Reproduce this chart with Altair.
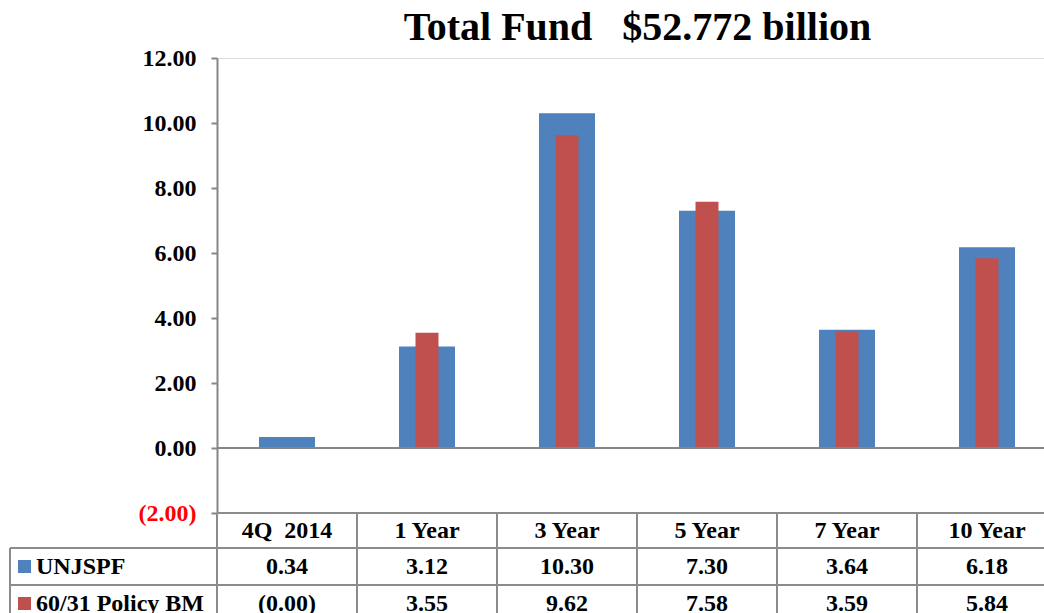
import altair as alt
import pandas as pd

# ---------------- data ----------------
categories = ["4Q\u00a0\u00a02014", "1 Year", "3 Year", "5 Year", "7 Year", "10 Year"]
series_names = ["UNJSPF", "60/31 Policy BM"]
unjspf = [0.34, 3.12, 10.30, 7.30, 3.64, 6.18]
policy_bm = [-0.001, 3.55, 9.62, 7.58, 3.59, 5.84]
y_ticks = [-2, 0, 2, 4, 6, 8, 10, 12]
series_colors = ["#4F81BD", "#C0504D"]
title_text = "Total Fund\u00a0\u00a0\u00a0$52.772 billion"


def acct(v):
    return f"({abs(v):.2f})" if v < 0 else f"{v:.2f}"


rows = []
for c, a, b in zip(categories, unjspf, policy_bm):
    rows.append({"cat": c, "series": series_names[0], "value": a, "label": acct(a)})
    rows.append({"cat": c, "series": series_names[1], "value": b, "label": acct(b)})
df = pd.DataFrame(rows)
cat_df = pd.DataFrame({"cat": categories})
ser_df = pd.DataFrame({"series": series_names})

FONT = "Liberation Serif"
GRID = "#8c8c8c"
AXIS = "#868686"
W, H = 827, 455
FULL_W = 840  # plot runs past the window edge, as in the reference
ROW_HDR, ROW1, ROW2 = 472.5, 508.5, 545.5
LINE1, LINE2 = 490, 527

xscale = alt.Scale(type="band", domain=categories, range=[0, FULL_W],
                   paddingInner=0, paddingOuter=0)
X = alt.X("cat:N", sort=categories, scale=xscale, axis=None)
Xedge = alt.X("cat:N", sort=categories, bandPosition=0, axis=None)
color = alt.Color("series:N", scale=alt.Scale(domain=series_names, range=series_colors),
                  legend=None)

yaxis = alt.Axis(
    values=y_ticks, title=None, grid=False,
    labelExpr="datum.value < 0 ? '(' + format(-datum.value, '.2f') + ')' : format(datum.value, '.2f') + '\u00a0'",
    labelColor={"condition": {"test": "datum.value < 0", "value": "#FF0000"}, "value": "#000000"},
    labelFont=FONT, labelFontSize=24, labelFontWeight="bold", labelPadding=15,
    tickSize=6, tickColor=AXIS, tickWidth=2, domainColor=AXIS, domainWidth=2,
)
Y = alt.Y("value:Q", scale=alt.Scale(domain=[-2, 12], nice=False), axis=yaxis)

base = alt.Chart(df)

blue = base.transform_filter(alt.datum.series == series_names[0]).mark_bar(size=56).encode(
    x=X, y=Y, y2=alt.datum(0), color=color)
red = base.transform_filter(alt.datum.series == series_names[1]).mark_bar(size=23).encode(
    x=X, y=alt.Y("value:Q"), y2=alt.datum(0), color=color)

zero_line = alt.Chart(cat_df.head(1)).mark_rule(color=AXIS, strokeWidth=2).encode(
    y=alt.datum(0), x=alt.value(0), x2=alt.value(FULL_W))

# table borders
top_border = alt.Chart(cat_df.head(1)).mark_rule(color=GRID, strokeWidth=2).encode(
    y=alt.value(H), x=alt.value(0), x2=alt.value(FULL_W))
row_lines = alt.Chart(pd.DataFrame({"yy": [LINE1, LINE2]})).mark_rule(color=GRID, strokeWidth=2).encode(
    y=alt.Y("yy:Q", scale=None), x=alt.value(-207), x2=alt.value(FULL_W))
col_lines = alt.Chart(cat_df).mark_rule(color=GRID, strokeWidth=2).encode(
    x=Xedge, y=alt.value(H), y2=alt.value(H + 160))
left_line = alt.Chart(cat_df.head(1)).mark_rule(color=GRID, strokeWidth=2).encode(
    x=alt.value(-207), y=alt.value(LINE1), y2=alt.value(H + 160))

txt = dict(font=FONT, fontSize=24, fontWeight="bold", baseline="middle", color="black")
headers = alt.Chart(cat_df).mark_text(align="center", **txt).encode(
    x=X, y=alt.value(ROW_HDR), text="cat:N")
vals1 = base.transform_filter(alt.datum.series == series_names[0]).mark_text(align="center", **txt).encode(
    x=X, y=alt.value(ROW1), text="label:N")
vals2 = base.transform_filter(alt.datum.series == series_names[1]).mark_text(align="center", **txt).encode(
    x=X, y=alt.value(ROW2), text="label:N")

key1 = alt.Chart(ser_df.head(1)).mark_square(size=169, opacity=1).encode(
    x=alt.value(-192.5), y=alt.value(ROW1), color=color)
key2 = alt.Chart(ser_df.tail(1)).mark_square(size=169, opacity=1).encode(
    x=alt.value(-192.5), y=alt.value(ROW2), color=color)
name1 = alt.Chart(ser_df.head(1)).mark_text(align="left", **txt).encode(
    x=alt.value(-181), y=alt.value(ROW1), text="series:N")
name2 = alt.Chart(ser_df.tail(1)).mark_text(align="left", **txt).encode(
    x=alt.value(-181), y=alt.value(ROW2), text="series:N")

chart = alt.layer(
    blue, red, zero_line, top_border, row_lines, col_lines, left_line,
    headers, vals1, vals2, key1, key2, name1, name2,
).properties(
    width=W, height=H,
    title=alt.TitleParams(title_text, font=FONT, fontSize=40, fontWeight="bold",
                          color="black", anchor="middle", dx=7, dy=6, offset=4),
    autosize=alt.AutoSizeParams(type="none"),
    padding={"left": 217, "top": 58, "right": 0, "bottom": 100},
).configure_view(stroke=None).configure(background="white")

chart.save("out.html", embed_options={"renderer": "svg", "actions": False})
